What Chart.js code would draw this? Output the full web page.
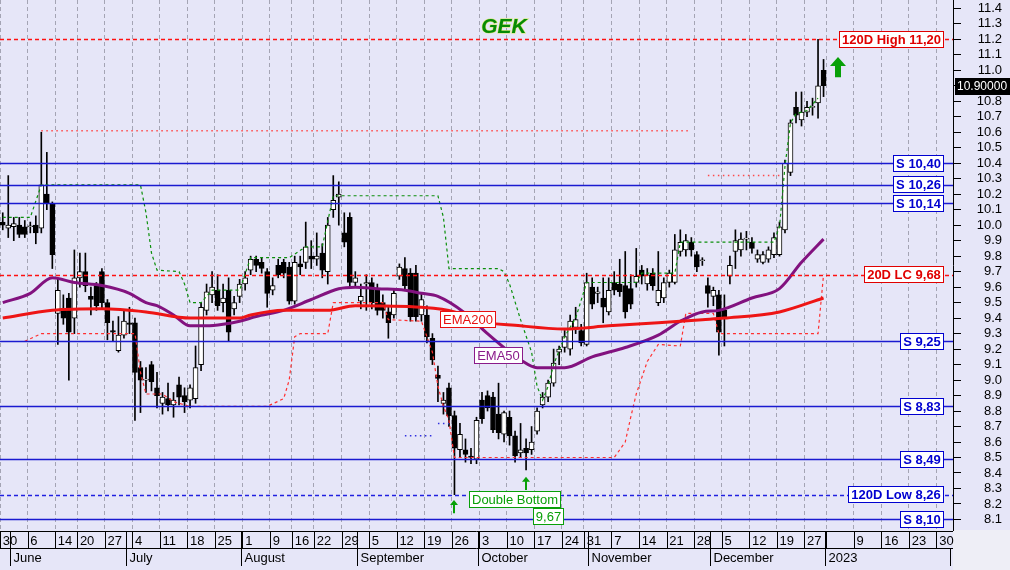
<!DOCTYPE html>
<html lang="en">
<head>
<meta charset="UTF-8" />
<title>GEK</title>
<style>
  html, body { margin: 0; padding: 0; background: #e6e6f8; }
  #wrap { width: 1010px; height: 570px; }
</style>
<script src="https://cdn.jsdelivr.net/npm/chart.js@4/dist/chart.umd.min.js"></script>
</head>
<body>
<div id="wrap"><canvas id="gek" width="1010" height="570"></canvas></div>
<script>
  // daily candles, one per trading day from 30 May 2022 to 30 Dec 2022
  const opens = [
    10.02, 9.98, 9.99, 10.00, 9.99, 9.99, 10.00, 9.98, 10.20, 10.14,
    9.43, 9.45, 9.53, 9.40, 9.66, 9.70, 9.54, 9.61, 9.70, 9.50,
    9.32, 9.19, 9.29, 9.37, 9.37, 9.08, 9.00, 9.10, 8.95, 8.85,
    8.88, 8.84, 8.97, 8.90, 8.87, 8.88, 9.10, 9.45, 9.55, 9.58,
    9.50, 9.58, 9.46, 9.54, 9.62, 9.71, 9.78, 9.76, 9.70, 9.58,
    9.74, 9.76, 9.73, 9.51, 9.75, 9.76, 9.80, 9.78, 9.82, 9.70,
    10.10, 10.18, 9.95, 10.05, 9.63, 9.51, 9.62, 9.63, 9.59, 9.50,
    9.44, 9.42, 9.67, 9.72, 9.69, 9.69, 9.42, 9.42, 9.27, 9.03,
    8.85, 8.95, 8.77, 8.55, 8.55, 8.51, 8.49, 8.87, 8.90, 8.89,
    8.78, 8.65, 8.76, 8.64, 8.53, 8.56, 8.55, 8.67, 8.84, 8.89,
    8.98, 9.18, 9.21, 9.20, 9.34, 9.32, 9.23, 9.60, 9.56, 9.53,
    9.44, 9.63, 9.62, 9.61, 9.59, 9.63, 9.71, 9.62, 9.69, 9.50,
    9.53, 9.63, 9.63, 9.83, 9.84, 9.89, 9.81, 9.77, 9.61, 9.54,
    9.55, 9.45, 9.67, 9.83, 9.84, 9.91, 9.89, 9.78, 9.76, 9.78,
    9.81, 9.81, 9.97, 10.34, 10.76, 10.68, 10.73, 10.76, 10.79, 11.00
  ];
  const highs = [
    10.08, 10.32, 10.05, 10.05, 10.03, 10.02, 10.06, 10.60, 10.47, 10.15,
    9.65, 9.55, 9.56, 9.84, 9.82, 9.82, 9.60, 9.63, 9.72, 9.52,
    9.38, 9.41, 9.45, 9.47, 9.40, 9.12, 9.08, 9.12, 9.05, 8.92,
    8.98, 8.92, 9.02, 8.95, 8.97, 9.22, 9.50, 9.62, 9.70, 9.68,
    9.62, 9.66, 9.54, 9.65, 9.70, 9.80, 9.80, 9.79, 9.72, 9.66,
    9.78, 9.78, 9.76, 9.80, 9.80, 10.02, 9.90, 9.95, 9.88, 10.05,
    10.32, 10.28, 10.08, 10.08, 9.70, 9.62, 9.68, 9.66, 9.62, 9.55,
    9.48, 9.58, 9.75, 9.79, 9.72, 9.74, 9.56, 9.48, 9.30, 9.09,
    8.92, 8.98, 8.80, 8.72, 8.62, 8.56, 8.76, 8.92, 8.93, 8.92,
    8.98, 8.80, 8.80, 8.67, 8.72, 8.62, 8.70, 8.82, 8.92, 9.00,
    9.20, 9.22, 9.32, 9.42, 9.47, 9.36, 9.69, 9.66, 9.60, 9.66,
    9.66, 9.70, 9.78, 9.83, 9.68, 9.85, 9.74, 9.72, 9.72, 9.83,
    9.66, 9.71, 9.94, 9.97, 9.94, 9.92, 9.83, 9.79, 9.66, 9.60,
    9.58, 9.55, 9.80, 9.97, 9.95, 9.96, 9.92, 9.84, 9.83, 9.86,
    9.95, 10.02, 10.42, 10.68, 10.86, 10.86, 10.80, 10.82, 11.20, 11.07
  ];
  const lows = [
    9.97, 9.92, 9.90, 9.92, 9.92, 9.95, 9.88, 9.95, 10.10, 9.72,
    9.23, 9.36, 9.00, 9.30, 9.60, 9.57, 9.42, 9.45, 9.46, 9.26,
    9.25, 9.18, 9.27, 9.30, 8.74, 8.79, 8.92, 8.93, 8.82, 8.78,
    8.80, 8.76, 8.84, 8.79, 8.82, 8.85, 9.06, 9.42, 9.50, 9.45,
    9.44, 9.25, 9.42, 9.50, 9.58, 9.68, 9.70, 9.69, 9.47, 9.55,
    9.66, 9.66, 9.49, 9.49, 9.68, 9.72, 9.72, 9.74, 9.66, 9.62,
    10.05, 10.00, 9.86, 9.60, 9.60, 9.46, 9.45, 9.46, 9.42, 9.40,
    9.27, 9.40, 9.65, 9.58, 9.38, 9.38, 9.38, 9.24, 9.10, 8.86,
    8.78, 8.70, 8.26, 8.50, 8.47, 8.46, 8.46, 8.72, 8.80, 8.66,
    8.62, 8.60, 8.58, 8.47, 8.50, 8.42, 8.52, 8.65, 8.82, 8.86,
    8.96, 9.10, 9.18, 9.16, 9.30, 9.22, 9.22, 9.46, 9.50, 9.37,
    9.42, 9.55, 9.54, 9.40, 9.46, 9.60, 9.62, 9.58, 9.58, 9.48,
    9.50, 9.60, 9.62, 9.80, 9.80, 9.80, 9.70, 9.74, 9.47, 9.48,
    9.16, 9.22, 9.62, 9.72, 9.80, 9.84, 9.82, 9.76, 9.75, 9.76,
    9.79, 9.80, 9.95, 10.32, 10.66, 10.64, 10.70, 10.71, 10.69, 10.83
  ];
  const closes = [
    10.00, 10.00, 10.01, 9.94, 9.94, 9.99, 9.95, 10.26, 10.14, 9.81,
    9.58, 9.40, 9.31, 9.66, 9.70, 9.61, 9.52, 9.48, 9.50, 9.37,
    9.31, 9.29, 9.38, 9.36, 9.05, 9.00, 9.00, 8.99, 8.90, 8.89,
    8.84, 8.87, 8.89, 8.86, 8.95, 9.08, 9.47, 9.57, 9.60, 9.48,
    9.53, 9.31, 9.50, 9.62, 9.66, 9.78, 9.74, 9.72, 9.56, 9.61,
    9.68, 9.69, 9.51, 9.76, 9.73, 9.86, 9.78, 9.80, 9.71, 10.00,
    10.16, 10.20, 9.89, 9.63, 9.66, 9.54, 9.63, 9.50, 9.45, 9.45,
    9.37, 9.56, 9.73, 9.61, 9.41, 9.41, 9.52, 9.28, 9.13, 9.01,
    8.87, 8.77, 8.56, 8.65, 8.52, 8.50, 8.74, 8.75, 8.82, 8.68,
    8.66, 8.79, 8.64, 8.51, 8.55, 8.53, 8.60, 8.80, 8.89, 8.98,
    9.11, 9.20, 9.28, 9.38, 9.39, 9.24, 9.63, 9.49, 9.57, 9.47,
    9.58, 9.58, 9.57, 9.44, 9.49, 9.67, 9.67, 9.68, 9.61, 9.58,
    9.63, 9.69, 9.84, 9.89, 9.90, 9.84, 9.73, 9.77, 9.56, 9.58,
    9.31, 9.40, 9.74, 9.90, 9.91, 9.91, 9.85, 9.81, 9.81, 9.84,
    9.92, 9.99, 10.40, 10.66, 10.71, 10.73, 10.76, 10.76, 10.90, 10.90
  ];

  // moving averages, read at points along the curves (day index, value)
  const ema50Days = [0, 5, 9, 13, 18, 23, 26, 28, 31, 34, 37, 40, 43, 46, 51, 56, 61, 64, 68, 73, 76, 79, 84, 88, 94, 97, 102, 107, 113, 119, 123, 127, 130, 136, 141, 145, 149];
  const ema50Vals = [9.50, 9.56, 9.66, 9.63, 9.61, 9.56, 9.50, 9.48, 9.42, 9.35, 9.35, 9.36, 9.38, 9.41, 9.45, 9.52, 9.59, 9.60, 9.59, 9.58, 9.56, 9.54, 9.43, 9.30, 9.13, 9.08, 9.08, 9.15, 9.21, 9.29, 9.38, 9.44, 9.45, 9.53, 9.59, 9.76, 9.91];
  const ema200Days = [0, 9, 18, 26, 34, 43, 45, 51, 59, 64, 76, 82, 85, 94, 102, 110, 119, 127, 131, 141, 149];
  const ema200Vals = [9.40, 9.45, 9.46, 9.44, 9.40, 9.40, 9.42, 9.45, 9.45, 9.48, 9.47, 9.44, 9.39, 9.35, 9.33, 9.35, 9.37, 9.39, 9.40, 9.44, 9.53];

  // channel lines (day index, value)
  const upperDays = [0, 5, 7, 25, 26, 27, 28, 32, 33, 34, 36, 38, 43, 45, 52, 55, 58, 60, 79, 80, 81, 90, 91, 92, 94, 96, 97, 98, 99, 100, 102, 104, 106, 115, 116, 122, 123, 140, 141, 142, 143, 144, 146, 148];
  const upperVals = [10.05, 10.05, 10.26, 10.26, 10.08, 9.82, 9.71, 9.70, 9.62, 9.50, 9.50, 9.58, 9.58, 9.79, 9.79, 9.86, 9.86, 10.19, 10.19, 10.05, 9.72, 9.72, 9.70, 9.62, 9.39, 9.18, 8.96, 8.87, 8.96, 9.10, 9.28, 9.40, 9.63, 9.63, 9.69, 9.69, 9.89, 9.89, 9.99, 10.38, 10.66, 10.72, 10.74, 10.82];
  const lowerDays = [4, 7, 24, 25, 26, 29, 31, 34, 48, 51, 52, 53, 54, 59, 60, 69, 70, 76, 78, 79, 80, 81, 82, 111, 113, 114, 115, 117, 119, 123, 124, 129, 130, 148, 149];
  const lowerVals = [9.25, 9.30, 9.30, 9.05, 8.91, 8.91, 8.86, 8.83, 8.83, 8.88, 9.00, 9.28, 9.30, 9.30, 9.50, 9.50, 9.39, 9.38, 9.18, 8.96, 8.83, 8.74, 8.50, 8.50, 8.60, 8.76, 8.91, 9.12, 9.23, 9.22, 9.43, 9.43, 9.30, 9.30, 9.68];

  // dotted segments [from day, to day, value]
  const redDots = [[7, 125, 10.61], [128, 141, 10.32]];
  const blueDots = [[73, 78, 8.64], [79, 81, 8.72]];

  // horizontal levels
  const supportLevels = [10.40, 10.26, 10.14, 9.25, 8.83, 8.49, 8.10];
  const supportText = ['S 10,40', 'S 10,26', 'S 10,14', 'S 9,25', 'S 8,83', 'S 8,49', 'S 8,10'];
  const redLevels = [11.20, 9.68];
  const redText = ['120D High 11,20', '20D LC 9,68'];
  const lowLevel = 8.26;
  const lowText = '120D Low 8,26';

  // calendar
  const firstDay = '2022-05-30';
  const lastDay = '2023-02-01';
  const noSession = ['2022-06-13', '2022-08-08', '2022-08-15', '2022-10-28', '2022-12-26'];
  const hiddenWeekLabels = ['2023-01-02'];
  const monthNames = ['', 'February', 'March', 'April', 'May', 'June', 'July', 'August', 'September', 'October', 'November', 'December'];

  const dates = [];
  for (let d = new Date(firstDay + 'T00:00:00Z'); d <= new Date(lastDay + 'T00:00:00Z'); d.setUTCDate(d.getUTCDate() + 1)) {
    const dow = d.getUTCDay();
    const iso = d.toISOString().slice(0, 10);
    if (dow === 0 || dow === 6 || noSession.includes(iso)) continue;
    dates.push(iso);
  }
  const weekLabel = dates.map((iso, i) => {
    if (i > 0) {
      const a = new Date(dates[i - 1] + 'T00:00:00Z').getUTCDay();
      const b = new Date(iso + 'T00:00:00Z').getUTCDay();
      if (b > a) return null;
    }
    return hiddenWeekLabels.includes(iso) ? '' : String(Number(iso.slice(8)));
  });
  const monthStarts = [];
  dates.forEach((iso, i) => {
    if (i > 0 && iso.slice(5, 7) !== dates[i - 1].slice(5, 7)) {
      const m = Number(iso.slice(5, 7)) - 1;
      if (m !== 1) monthStarts.push({ i, text: m === 0 ? iso.slice(0, 4) : monthNames[m] });
    }
  });

  const pts = (days, vals) => days.map((d, k) => ({ x: dates[d], y: vals[k] }));
  const seg = s => [{ x: dates[s[0]], y: s[2] }, { x: dates[s[1]], y: s[2] }];

  const FONT = '"Liberation Sans", Arial, sans-serif';
  const BLUE = '#1a1ad0';
  const RED = '#e81010';
  const GREEN = '#08a008';
  const BG = '#e6e6f8';

  const lineBase = { type: 'line', pointRadius: 0, fill: false, order: 2 };

  const datasets = [
    {
      label: 'wick', data: lows.map((l, i) => [l, highs[i]]),
      backgroundColor: '#000', barThickness: 1, grouped: false, order: 5
    },
    {
      label: 'body', data: opens.map((o, i) => [o, closes[i]]),
      backgroundColor: opens.map((o, i) => closes[i] >= o ? '#ffffff' : '#000000'),
      borderColor: '#000', borderWidth: 1, borderSkipped: false,
      barThickness: 5, grouped: false, minBarLength: 1, order: 4
    },
    Object.assign({}, lineBase, { label: 'upper', data: pts(upperDays, upperVals), borderColor: '#0b8f0b', borderWidth: 1.2, borderDash: [3, 3] }),
    Object.assign({}, lineBase, { label: 'lower', data: pts(lowerDays, lowerVals), borderColor: '#ff3030', borderWidth: 1.2, borderDash: [3, 3] }),
    ...redDots.map(s => Object.assign({}, lineBase, { label: 'rd', data: seg(s), borderColor: '#ff4a4a', borderWidth: 1.5, borderDash: [1.5, 3.5] })),
    ...blueDots.map(s => Object.assign({}, lineBase, { label: 'bd', data: seg(s), borderColor: '#3030e0', borderWidth: 1.5, borderDash: [1.5, 3.5] })),
    Object.assign({}, lineBase, { label: 'EMA200', data: pts(ema200Days, ema200Vals), borderColor: '#ee1515', borderWidth: 3, cubicInterpolationMode: 'monotone', order: 1 }),
    Object.assign({}, lineBase, { label: 'EMA50', data: pts(ema50Days, ema50Vals), borderColor: '#82127f', borderWidth: 3, cubicInterpolationMode: 'monotone', order: 1 })
  ];

  function tag(ctx, text, cx, cy, color, font, anchor) {
    ctx.font = font;
    const w = Math.round(ctx.measureText(text).width) + 6;
    const h = 17;
    const x = anchor === 'right' ? cx - w : Math.round(cx - w / 2);
    const y = Math.round(cy - h / 2);
    ctx.fillStyle = '#ffffff';
    ctx.fillRect(x, y, w, h);
    ctx.strokeStyle = color;
    ctx.lineWidth = 1;
    ctx.setLineDash([]);
    ctx.strokeRect(x + 0.5, y + 0.5, w - 1, h - 1);
    ctx.fillStyle = color;
    ctx.textAlign = 'center';
    ctx.textBaseline = 'middle';
    ctx.fillText(text, x + w / 2, y + h / 2 + 1);
  }

  function arrow(ctx, x, yTop, yBot, big) {
    const head = big ? 9 : 5, hw = big ? 8 : 4, sw = big ? 3 : 1;
    ctx.fillStyle = GREEN;
    ctx.beginPath();
    ctx.moveTo(x, yTop);
    ctx.lineTo(x + hw, yTop + head);
    ctx.lineTo(x + sw, yTop + head);
    ctx.lineTo(x + sw, yBot);
    ctx.lineTo(x - sw, yBot);
    ctx.lineTo(x - sw, yTop + head);
    ctx.lineTo(x - hw, yTop + head);
    ctx.closePath();
    ctx.fill();
  }

  const overlay = {
    id: 'overlay',
    beforeDraw(chart) {
      const ctx = chart.ctx;
      ctx.save();
      ctx.fillStyle = BG;
      ctx.fillRect(0, 0, chart.width, chart.height);
      ctx.fillStyle = '#eeeef6';
      ctx.fillRect(chart.chartArea.right, chart.chartArea.bottom, chart.width - chart.chartArea.right, chart.height - chart.chartArea.bottom);
      ctx.restore();
    },
    afterDatasetsDraw(chart) {
      const { ctx, chartArea: a, scales: { x: xs, y: ys } } = chart;
      const right = a.right - 9;
      ctx.save();
      // level lines
      const hline = (v, color, dash, width) => {
        const y = Math.round(ys.getPixelForValue(v)) + 0.5;
        ctx.strokeStyle = color; ctx.lineWidth = width; ctx.setLineDash(dash);
        ctx.beginPath(); ctx.moveTo(a.left, y); ctx.lineTo(a.right, y); ctx.stroke();
      };
      redLevels.forEach(v => hline(v, '#ff1010', [4, 3], 1.5));
      supportLevels.forEach(v => hline(v, BLUE, [], 1.5));
      hline(lowLevel, '#2020e0', [4, 3], 1.5);
      ctx.setLineDash([]);
      const lb = 'bold 13px ' + FONT;
      const lf = '13px ' + FONT;
      redLevels.forEach((v, k) => tag(ctx, redText[k], right, ys.getPixelForValue(v), '#e00000', lb, 'right'));
      supportLevels.forEach((v, k) => tag(ctx, supportText[k], right, ys.getPixelForValue(v), '#0000d0', lb, 'right'));
      tag(ctx, lowText, right, ys.getPixelForValue(lowLevel), '#0000d0', lb, 'right');
      // study labels
      tag(ctx, 'EMA200', xs.getPixelForValue(84.5), ys.getPixelForValue(9.39), RED, lf, 'center');
      tag(ctx, 'EMA50', xs.getPixelForValue(90), ys.getPixelForValue(9.16), '#8a1a8a', lf, 'center');
      tag(ctx, 'Double Bottom', xs.getPixelForValue(93), ys.getPixelForValue(8.23), GREEN, lf, 'center');
      tag(ctx, '9,67', xs.getPixelForValue(99), ys.getPixelForValue(8.12), GREEN, lf, 'center');
      // arrows
      arrow(ctx, Math.round(xs.getPixelForValue(82)), ys.getPixelForValue(8.225), ys.getPixelForValue(8.14), false);
      arrow(ctx, Math.round(xs.getPixelForValue(95)), ys.getPixelForValue(8.375), ys.getPixelForValue(8.29), false);
      arrow(ctx, Math.round(xs.getPixelForValue(151.6)), ys.getPixelForValue(11.085), ys.getPixelForValue(10.955), true);
      // title
      ctx.font = 'italic bold 21px ' + FONT;
      ctx.textAlign = 'center';
      ctx.textBaseline = 'middle';
      ctx.lineWidth = 1;
      ctx.strokeStyle = '#d8e86a';
      ctx.strokeText('GEK', 504, 27);
      ctx.fillStyle = '#058a05';
      ctx.fillText('GEK', 504, 27);
      ctx.restore();
    },
    afterDraw(chart) {
      const { ctx, chartArea: a, scales: { x: xs, y: ys } } = chart;
      const w = xs.getPixelForValue(1) - xs.getPixelForValue(0);
      const edge = i => Math.round(xs.getPixelForValue(i) - w / 2) + 0.5;
      const r1 = a.bottom + 1, r2 = a.bottom + 18, r3 = a.bottom + 36;
      ctx.save();
      ctx.strokeStyle = '#000';
      ctx.lineWidth = 1;
      ctx.beginPath();
      ctx.moveTo(a.left, r1 + 0.5); ctx.lineTo(a.right, r1 + 0.5);
      ctx.moveTo(a.left, r2 + 0.5); ctx.lineTo(a.right, r2 + 0.5);
      weekLabel.forEach((t, i) => { if (t !== null) { ctx.moveTo(edge(i), r1); ctx.lineTo(edge(i), r2); } });
      monthStarts.forEach(m => { ctx.moveTo(edge(m.i) - 1, r1); ctx.lineTo(edge(m.i) - 1, r3); });
      ctx.moveTo(a.right - 2.5, r2); ctx.lineTo(a.right - 2.5, r3);
      ctx.stroke();
      ctx.fillStyle = '#000';
      ctx.font = '13px ' + FONT;
      ctx.textAlign = 'left';
      ctx.textBaseline = 'middle';
      monthStarts.forEach(m => ctx.fillText(m.text, edge(m.i) + 2, (r2 + r3) / 2 + 1));
      // last price tag
      const yp = Math.round(ys.getPixelForValue(closes[closes.length - 1]));
      ctx.fillStyle = '#000';
      ctx.fillRect(a.right + 2, yp - 8, chart.width - a.right - 2, 17);
      ctx.fillStyle = '#fff';
      ctx.font = '12px ' + FONT;
      ctx.fillText('10.90000', a.right + 4, yp + 1);
      ctx.restore();
    }
  };

  new Chart(document.getElementById('gek'), {
    type: 'bar',
    data: { labels: dates, datasets },
    options: {
      responsive: false,
      animation: false,
      devicePixelRatio: 1,
      layout: { padding: { left: 0, top: 0, bottom: 0, right: 8 } },
      plugins: { legend: { display: false }, tooltip: { enabled: false } },
      scales: {
        x: {
          type: 'category',
          offset: true,
          grid: {
            offset: true,
            drawTicks: false,
            color: c => (weekLabel[c.index] != null) ? '#a4a4b4' : 'rgba(0,0,0,0)',
            lineWidth: 1
          },
          border: { display: false, dash: [4, 3] },
          ticks: {
            autoSkip: false, maxRotation: 0, minRotation: 0, align: 'start', padding: 4,
            color: '#000', font: { size: 13, family: FONT },
            callback: (v, i) => weekLabel[i] || ''
          },
          afterFit: s => { s.height = 40; s.paddingLeft = 0; s.paddingRight = 0; }
        },
        y: {
          type: 'linear',
          position: 'right',
          min: 8.032,
          max: 11.4537,
          afterBuildTicks: s => { s.ticks = s.ticks.filter(t => Math.abs(t.value * 10 - Math.round(t.value * 10)) < 1e-6); },
          ticks: {
            stepSize: 0.1, autoSkip: false, includeBounds: false, padding: 6, crossAlign: 'far', color: '#000',
            font: { size: 13, family: FONT },
            callback: v => Number(v).toFixed(1)
          },
          grid: { drawOnChartArea: false, drawTicks: true, tickLength: 8, tickColor: '#000', color: '#000' },
          border: { display: true, color: '#000', width: 1 },
          afterFit: s => { s.width = 49; s.paddingTop = 0; s.paddingBottom = 0; }
        }
      }
    },
    plugins: [overlay]
  });
</script>
</body>
</html>
